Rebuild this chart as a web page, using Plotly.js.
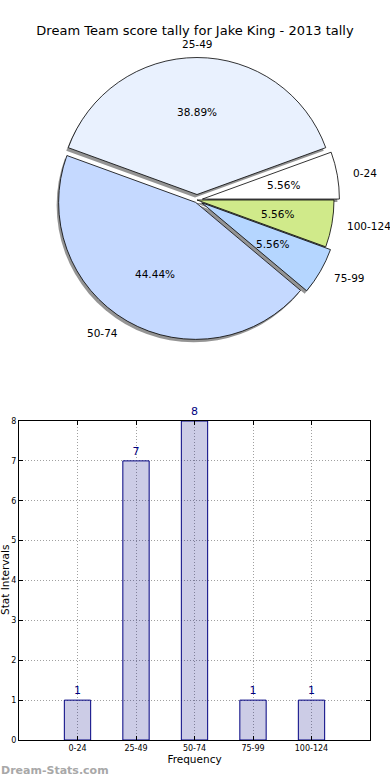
<!DOCTYPE html>
<html>
<head>
<meta charset="utf-8">
<script src="https://cdn.plot.ly/plotly-3.0.1.min.js"></script>
<style>html,body{margin:0;padding:0;background:#fff;}#chart{width:390px;height:780px;}</style>
</head>
<body>
<div id="chart"></div>
<script>
// ---- data ----
var categories = ["0-24", "25-49", "50-74", "75-99", "100-124"];
var counts = [1, 7, 8, 1, 1];
var pieColors = ["#ffffff", "#e9f1fe", "#c5d9ff", "#b5d6ff", "#d0ea8a"];
var pulls = [0.04, 0.04, 0.02, 0.04, 0];
var chartTitle = "Dream Team score tally for Jake King - 2013 tally";
var xTitle = "Frequency";
var yTitle = "Stat Intervals";
var watermark = "Dream-Stats.com";

// ---- layout constants ----
var W = 390, H = 780;
var FONT = "DejaVu Sans, sans-serif";
var pieCx = 197, pieCy = 200, pieR = 137;
var maxPull = Math.max.apply(null, pulls);
var half = pieR * (1 + maxPull);
var total = counts.reduce(function(a, b){return a + b;}, 0);
// plotly places the first counterclockwise slice ending at the rotation angle,
// so shift by the first slice so that it starts at 3 o'clock
var rot = 90 - 360 * counts[0] / total;
function dom(cx, cy) {
  return {
    x: [(cx - half) / W, (cx + half) / W],
    y: [1 - (cy + half) / H, 1 - (cy - half) / H]
  };
}

var shadow = {
  type: "pie", labels: categories, values: counts, sort: false,
  direction: "counterclockwise", rotation: rot, pull: pulls,
  marker: {colors: categories.map(function(){return "rgba(60,60,60,0.55)";}), line: {width: 0}},
  textinfo: "none", hoverinfo: "skip", showlegend: false,
  domain: dom(pieCx - 2, pieCy + 3)
};
var pie = {
  type: "pie", labels: categories, values: counts, sort: false,
  direction: "counterclockwise", rotation: rot, pull: pulls,
  marker: {colors: pieColors, line: {color: "#000000", width: 0.8}},
  textinfo: "none", hoverinfo: "label+percent", showlegend: false,
  domain: dom(pieCx, pieCy)
};

var bar = {
  type: "bar", x: categories, y: counts, width: 0.45,
  marker: {color: "rgba(0,0,128,0.2)", line: {color: "#000080", width: 1}},
  text: counts.map(String), textposition: "outside", cliponaxis: false,
  textfont: {family: FONT, size: 11, color: "#000080"},
  xaxis: "x", yaxis: "y", showlegend: false, hoverinfo: "x+y"
};

// ---- annotations for pie text, computed from the data ----
var annotations = [];
var start = 0;
counts.forEach(function(v, i) {
  var frac = v / total;
  var mid = (start + frac / 2) * 2 * Math.PI;
  start += frac;
  var c = Math.cos(mid), s = Math.sin(mid);
  var ox = pieCx + pulls[i] * pieR * c, oy = pieCy - pulls[i] * pieR * s;
  var px = ox + 0.6 * pieR * c, py = oy - 0.6 * pieR * s;
  annotations.push({
    xref: "paper", yref: "paper", x: px / W, y: 1 - py / H,
    text: (frac * 100).toFixed(2) + "%", showarrow: false,
    xanchor: "center", yanchor: "middle",
    font: {family: FONT, size: 10.5, color: "#000"}
  });
  var lx = ox + 1.1 * pieR * c, ly = oy - 1.1 * pieR * s;
  annotations.push({
    xref: "paper", yref: "paper", x: lx / W, y: 1 - ly / H,
    text: categories[i], showarrow: false,
    xanchor: c > 0.01 ? "left" : (c < -0.01 ? "right" : "center"), yanchor: "middle",
    font: {family: FONT, size: 10.5, color: "#000"}
  });
});
annotations.push({
  xref: "paper", yref: "paper", x: -0.003, y: 1 - 770 / H,
  text: "<b>" + watermark + "</b>", showarrow: false, xanchor: "left", yanchor: "middle",
  font: {family: FONT, size: 11, color: "#a8a8a8"}
});
annotations.push({
  xref: "paper", yref: "paper", x: 5 / W, y: 1 - 580 / H,
  text: yTitle, showarrow: false, textangle: -90, xanchor: "center", yanchor: "middle",
  font: {family: FONT, size: 10.5, color: "#000"}
});

var layout = {
  width: W, height: H,
  margin: {l: 0, r: 0, t: 0, b: 0},
  paper_bgcolor: "#fff", plot_bgcolor: "#fff",
  font: {family: FONT, color: "#000"},
  title: {text: chartTitle, x: 0.5, xanchor: "center", y: 1 - 30 / H, yanchor: "middle",
          font: {family: FONT, size: 13, color: "#000"}},
  xaxis: {
    domain: [19 / W, 370 / W], range: [-1, 5], type: "category",
    showline: true, linecolor: "#000", linewidth: 1, mirror: "ticks",
    ticks: "inside", ticklen: 4, tickcolor: "#000",
    showgrid: true, gridcolor: "#a0a0a0", griddash: "1px,2px", gridwidth: 1,
    tickfont: {family: FONT, size: 8, color: "#000"},
    title: {text: xTitle, font: {family: FONT, size: 10.5, color: "#000"}, standoff: 4},
    fixedrange: true
  },
  yaxis: {
    domain: [1 - 740 / H, 1 - 421 / H], range: [0, 8], dtick: 1,
    showline: true, linecolor: "#000", linewidth: 1, mirror: "ticks",
    ticks: "inside", ticklen: 4, tickcolor: "#000",
    showgrid: true, gridcolor: "#a0a0a0", griddash: "1px,2px", gridwidth: 1,
    zeroline: false,
    tickfont: {family: FONT, size: 8, color: "#000"},
    fixedrange: true
  },
  annotations: annotations
};

Plotly.newPlot("chart", [shadow, pie, bar], layout, {displayModeBar: false});
</script>
</body>
</html>
